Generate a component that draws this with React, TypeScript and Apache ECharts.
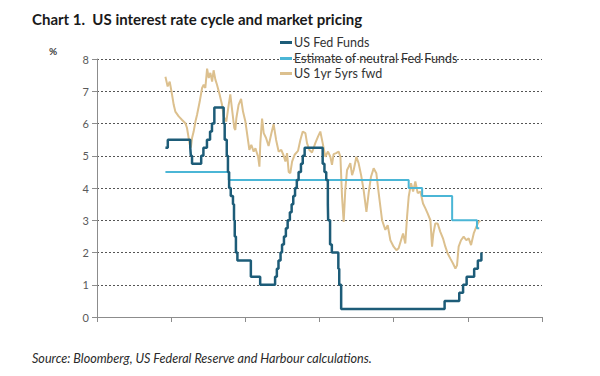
import React, { useEffect, useRef } from "react";
import * as echarts from "echarts";

const titleText = "Chart 1.  US interest rate cycle and market pricing";
const sourceText = "Source: Bloomberg, US Federal Reserve and Harbour calculations.";
const seriesNames = ["US Fed Funds", "Estimate of neutral Fed Funds", "US 1yr 5yrs fwd"];
const yTicks = [0, 1, 2, 3, 4, 5, 6, 7, 8];
const xAxisStart = 1992.44;
const xAxisEnd = 2022.55;

const fedFundsYears = [
  1997.07, 1997.23, 1998.75, 1998.79, 1998.87, 1999.49, 1999.64, 1999.88, 2000.09, 2000.22, 2000.38,
  2001.01, 2001.08, 2001.22, 2001.3, 2001.38, 2001.49, 2001.64, 2001.71, 2001.76, 2001.84, 2001.94,
  2002.85, 2003.48, 2004.49, 2004.61, 2004.72, 2004.86, 2004.96, 2005.09, 2005.22, 2005.34, 2005.49,
  2005.61, 2005.72, 2005.84, 2005.96, 2006.08, 2006.24, 2006.36, 2006.49, 2007.71, 2007.83, 2007.95,
  2008.06, 2008.08, 2008.21, 2008.33, 2008.77, 2008.83, 2008.96, 2015.96, 2016.95, 2017.21, 2017.45,
  2017.96, 2018.21, 2018.45, 2018.47,
];
const fedFundsRates = [
  5.25, 5.5, 5.25, 5.0, 4.75, 5.0, 5.25, 5.5, 5.75, 6.0, 6.5,
  6.0, 5.5, 5.0, 4.5, 4.0, 3.75, 3.5, 3.0, 2.5, 2.0, 1.75,
  1.25, 1.0, 1.25, 1.5, 1.75, 2.0, 2.25, 2.5, 2.75, 3.0, 3.25,
  3.5, 3.75, 4.0, 4.25, 4.5, 4.75, 5.0, 5.25, 4.75, 4.5, 4.25,
  3.5, 3.0, 2.25, 2.0, 1.5, 1.0, 0.25, 0.5, 0.75, 1.0, 1.25,
  1.5, 1.75, 2.0, 2.0,
];

const neutralYears = [1997.07, 2001.35, 2013.53, 2014.44, 2016.47, 2018.15, 2018.3];
const neutralRates = [4.5, 4.25, 4.0, 3.75, 3.0, 2.75, 2.75];

const fwdYears = [
  1997.07, 1997.22, 1997.36, 1997.52, 1997.63, 1997.74, 1997.97, 1998.2, 1998.42, 1998.53, 1998.71,
  1998.79, 1998.87, 1998.98, 1999.1, 1999.21, 1999.39, 1999.55, 1999.66, 1999.77, 1999.89, 2000.0,
  2000.11, 2000.23, 2000.33, 2000.45, 2000.56, 2000.74, 2000.9, 2001.01, 2001.19, 2001.35, 2001.46,
  2001.58, 2001.73, 2001.8, 2001.87, 2002.02, 2002.19, 2002.32, 2002.48, 2002.59, 2002.75, 2002.88,
  2003.04, 2003.16, 2003.34, 2003.43, 2003.49, 2003.61, 2003.72, 2003.88, 2004.05, 2004.24, 2004.39,
  2004.56, 2004.73, 2004.91, 2005.07, 2005.19, 2005.3, 2005.41, 2005.52, 2005.64, 2005.81, 2006.04,
  2006.2, 2006.36, 2006.54, 2006.65, 2006.81, 2006.99, 2007.21, 2007.4, 2007.55, 2007.71, 2007.89,
  2008.07, 2008.23, 2008.34, 2008.45, 2008.62, 2008.79, 2008.91, 2009.02, 2009.13, 2009.24, 2009.36,
  2009.47, 2009.58, 2009.7, 2009.81, 2009.99, 2010.14, 2010.31, 2010.48, 2010.67, 2010.82, 2010.98,
  2011.16, 2011.34, 2011.5, 2011.73, 2011.95, 2012.11, 2012.29, 2012.51, 2012.7, 2012.85, 2013.01,
  2013.15, 2013.3, 2013.42, 2013.53, 2013.69, 2013.83, 2013.98, 2014.14, 2014.32, 2014.5, 2014.66,
  2014.81, 2015.0, 2015.11, 2015.2, 2015.33, 2015.49, 2015.67, 2015.85, 2016.01, 2016.17, 2016.35,
  2016.53, 2016.69, 2016.8, 2016.91, 2017.07, 2017.25, 2017.43, 2017.59, 2017.75, 2017.93, 2018.11,
  2018.26, 2018.38,
];
const fwdRates = [
  7.45, 7.15, 7.3, 6.89, 6.58, 6.37, 6.22, 6.11, 6.01, 5.86, 5.36,
  5.25, 5.55, 5.75, 6.06, 6.27, 6.68, 7.1, 7.2, 7.1, 7.7, 7.41,
  7.57, 7.3, 7.65, 7.36, 7.2, 6.89, 6.58, 6.22, 6.06, 6.58, 6.9,
  6.43, 5.86, 5.8, 6.17, 6.58, 6.76, 6.37, 6.06, 5.7, 5.18, 5.34,
  5.13, 5.23, 4.97, 4.66, 5.39, 6.15, 5.7, 5.55, 5.3, 5.7, 5.98,
  5.49, 5.13, 5.18, 5.0, 4.82, 5.08, 4.5, 4.46, 4.82, 5.03, 5.15,
  5.49, 5.75, 5.7, 5.39, 5.18, 5.1, 5.39, 5.6, 5.75, 5.39, 4.97,
  5.13, 4.97, 4.72, 5.05, 5.08, 5.13, 4.97, 3.73, 2.95, 3.94, 4.56,
  4.66, 4.77, 4.4, 4.56, 4.97, 4.77, 4.4, 3.94, 3.26, 3.84, 4.35,
  4.61, 4.46, 3.84, 3.0, 2.7, 2.85, 2.38, 2.18, 2.07, 2.13, 2.38,
  2.59, 2.28, 3.11, 3.73, 4.15, 3.89, 4.2, 3.84, 3.89, 3.52, 3.37,
  3.21, 3.0, 2.18, 2.59, 2.9, 2.9, 2.64, 2.44, 2.18, 1.97, 1.81,
  1.66, 1.5, 1.6, 2.18, 2.38, 2.49, 2.38, 2.44, 2.23, 2.59, 2.8,
  2.95, 2.98,
];

const FONT = "Lato";
const colors = ["#1d5c78", "#4bb6d6", "#dcc08e"];

export default function App() {
  const ref = useRef<HTMLDivElement>(null);
  useEffect(() => {
    if (!ref.current) return;
    const chart = echarts.init(ref.current, undefined, { renderer: "svg" });
    const pair = (xs: number[], ys: number[]) => xs.map((x, i) => [x, ys[i]]);
    const tickValues = Array.from({ length: 7 }, (_, i) => xAxisStart + (i * (xAxisEnd - xAxisStart)) / 6);
    const legendTops = [31, 47, 62];
    chart.setOption({
      animation: false,
      backgroundColor: "#ffffff",
      title: [
        {
          text: titleText,
          left: 27,
          top: 6,
          textStyle: { fontFamily: FONT, fontWeight: "bold", fontSize: 15, color: "#1a1a1a" },
        },
        {
          text: sourceText,
          left: 27,
          top: 347,
          textStyle: { fontFamily: FONT, fontStyle: "italic", fontWeight: "normal", fontSize: 12.6, color: "#2a2a2a" },
        },
        {
          text: "%",
          left: 44,
          top: 41,
          textStyle: { fontFamily: FONT, fontWeight: "bold", fontSize: 10, color: "#404040" },
        },
      ],
      legend: seriesNames.map((name, i) => ({
        data: [name],
        left: 275,
        top: legendTops[i],
        orient: "vertical",
        icon: "rect",
        itemWidth: 12,
        itemHeight: 3,
        itemGap: 4,
        selectedMode: false,
        textStyle: { fontFamily: FONT, fontSize: 12.5, color: "#333333", padding: [0, 0, 0, -3] },
      })),
      grid: { left: 97, right: 58, top: 59, bottom: 59, containLabel: false },
      xAxis: {
        type: "value",
        min: xAxisStart,
        max: xAxisEnd,
        axisLine: { show: true, onZero: false, lineStyle: { color: "#8c8c8c", width: 1 } },
        axisTick: { show: true, customValues: tickValues, length: 5, lineStyle: { color: "#8c8c8c" } },
        axisLabel: { show: false, customValues: tickValues },
        splitLine: { show: false },
      },
      yAxis: {
        type: "value",
        min: 0,
        max: 8,
        interval: 1,
        axisLine: { show: true, lineStyle: { color: "#8c8c8c", width: 1 } },
        axisTick: { show: true, length: 5, lineStyle: { color: "#8c8c8c" } },
        axisLabel: {
          fontFamily: FONT,
          fontSize: 11,
          color: "#595959",
          margin: 8,
          formatter: (v: number) => (yTicks.includes(v) ? String(v) : ""),
        },
        splitLine: { show: true, lineStyle: { color: "#555555", type: [2, 2], width: 1 } },
      },
      series: [
        {
          name: seriesNames[0],
          type: "line",
          step: "end",
          data: pair(fedFundsYears, fedFundsRates),
          showSymbol: false,
          lineStyle: { color: colors[0], width: 2.5 },
          itemStyle: { color: colors[0] },
          z: 4,
        },
        {
          name: seriesNames[1],
          type: "line",
          step: "end",
          data: pair(neutralYears, neutralRates),
          showSymbol: false,
          lineStyle: { color: colors[1], width: 2 },
          itemStyle: { color: colors[1] },
          z: 3,
        },
        {
          name: seriesNames[2],
          type: "line",
          data: pair(fwdYears, fwdRates),
          showSymbol: false,
          lineStyle: { color: colors[2], width: 2 },
          itemStyle: { color: colors[2] },
          z: 2,
        },
      ],
    });
    return () => chart.dispose();
  }, []);
  return <div ref={ref} style={{ width: 600, height: 376, margin: -8 }} />;
}
